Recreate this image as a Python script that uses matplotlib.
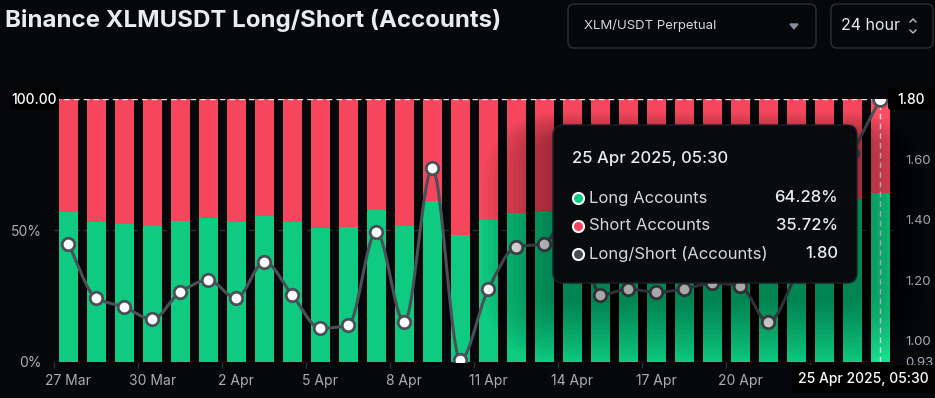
import numpy as np
import matplotlib
matplotlib.use("Agg")
import matplotlib.pyplot as plt
from matplotlib.path import Path
from matplotlib.patches import PathPatch, FancyBboxPatch

plt.rcParams['font.family'] = ['Inter', 'DejaVu Sans']

# ---- data ----
dates = ['27 Mar', '28 Mar', '29 Mar', '30 Mar', '31 Mar', '1 Apr', '2 Apr', '3 Apr',
         '4 Apr', '5 Apr', '6 Apr', '7 Apr', '8 Apr', '9 Apr', '10 Apr', '11 Apr',
         '12 Apr', '13 Apr', '14 Apr', '15 Apr', '16 Apr', '17 Apr', '18 Apr', '19 Apr',
         '20 Apr', '21 Apr', '22 Apr', '23 Apr', '24 Apr', '25 Apr']
long_pct = [56.8, 53.3, 52.5, 51.7, 53.6, 54.5, 53.3, 55.5, 53.3, 51.0,
            51.4, 57.6, 51.6, 61.1, 48.3, 53.8, 56.7, 56.8, 59.2, 53.5,
            53.9, 53.7, 53.9, 54.3, 54.1, 51.5, 55.0, 58.7, 61.9, 64.28]
short_pct = [43.2, 46.7, 47.5, 48.3, 46.4, 45.5, 46.7, 44.5, 46.7, 49.0,
             48.6, 42.4, 48.4, 38.9, 51.7, 46.2, 43.3, 43.2, 40.8, 46.5,
             46.1, 46.3, 46.1, 45.7, 45.9, 48.5, 45.0, 41.3, 38.1, 35.72]
ratio = [1.32, 1.14, 1.11, 1.07, 1.16, 1.20, 1.14, 1.26, 1.15, 1.04,
         1.05, 1.36, 1.06, 1.57, 0.935, 1.17, 1.31, 1.32, 1.45, 1.15,
         1.17, 1.16, 1.17, 1.19, 1.18, 1.06, 1.22, 1.42, 1.62, 1.80]
# every third day is labelled; 23 Apr sits under the hover date box
x_labels = ['27 Mar', '30 Mar', '2 Apr', '5 Apr', '8 Apr', '11 Apr', '14 Apr', '17 Apr', '20 Apr', '']
left_ticks = [0, 50]
left_ticklabels = ['0%', '50%']
right_ticks = [0.93, 1.00, 1.20, 1.40, 1.60]
right_ticklabels = ['0.93', '1.00', '1.20', '1.40', '1.60']

BG = '#05070b'
GREEN = '#0ecb81'
RED = '#f6465d'
GREEN_HI = '#16de8f'
RED_HI = '#ff4e64'
LINE = '#4a4f58'
TXT = '#a9aeb6'
W, H = 935, 398

fig = plt.figure(figsize=(W / 100, H / 100), dpi=100, facecolor=BG)

# main axes: x from 54.3 to 894.3 px, y 0% at 361.5 px, 100% at 99 px
ax = fig.add_axes([54.3 / W, (H - 361.5) / H, 840 / W, 262.5 / H])
ax.set_facecolor(BG)
x = np.arange(len(dates))
n = len(dates)
gcol = [GREEN] * (n - 1) + [GREEN_HI]
rcol = [RED] * (n - 1) + [RED_HI]
ax.bar(x, long_pct, width=0.69, color=gcol, zorder=2)
ax.bar(x, short_pct, bottom=long_pct, width=0.69, color=rcol, zorder=2)
ax.set_xlim(-0.5, n - 0.5)
ax.set_ylim(0, 100)
for s in ax.spines.values():
    s.set_visible(False)
ax.axhline(50, color='#2b2f36', lw=1, ls=(0, (4, 3)), zorder=1)
ax.axhline(0, color='#2b2f36', lw=1, ls=(0, (4, 3)), zorder=1)
ax.set_yticks(left_ticks)
ax.set_yticklabels(left_ticklabels)
ax.tick_params(axis='y', length=0, pad=9, labelsize=10, labelcolor=TXT)
ax.set_xticks(x[::3])
ax.set_xticklabels(x_labels)
ax.set_xticks(x[::3] - 0.5, minor=True)
ax.tick_params(axis='x', which='major', length=0, pad=9, labelsize=10, labelcolor=TXT)
ax.tick_params(axis='x', which='minor', length=4, color='#2b2f36', width=1)

# ratio line on right axis
ax2 = ax.twinx()
ax2.set_ylim(0.93, 1.80)
for s in ax2.spines.values():
    s.set_visible(False)
ax2.set_yticks(right_ticks)
ax2.set_yticklabels(right_ticklabels)
ax2.tick_params(axis='y', length=0, pad=8, labelsize=9.5, labelcolor=TXT)

# monotone cubic curve through the points (drawn with bezier segments)
xs = x.astype(float)
ys = np.array(ratio)
d = np.diff(ys) / np.diff(xs)
m = np.zeros(n)
m[0], m[-1] = d[0], d[-1]
for i in range(1, n - 1):
    if d[i - 1] * d[i] > 0:
        m[i] = 2 / (1 / d[i - 1] + 1 / d[i])
verts = [(xs[0], ys[0])]
codes = [Path.MOVETO]
for i in range(n - 1):
    h = xs[i + 1] - xs[i]
    verts += [(xs[i] + h / 3, ys[i] + m[i] * h / 3),
              (xs[i + 1] - h / 3, ys[i + 1] - m[i + 1] * h / 3),
              (xs[i + 1], ys[i + 1])]
    codes += [Path.CURVE4] * 3
ax2.add_patch(PathPatch(Path(verts, codes), fill=False, edgecolor=LINE, lw=2.2, zorder=3))
ax2.plot(x, ratio, ls='none', marker='o', ms=9, mfc='white', mec=LINE, mew=2, zorder=4)

# hover crosshair
ax2.axhline(1.80, xmin=0, xmax=(n - 0.5) / n, color='#e6e6e6', lw=1, ls=(0, (4, 3)), zorder=5)
ax2.axvline(n - 1, color='#e6e6e6', lw=1, ls=(0, (4, 3)), zorder=5)
ax2.plot([n - 1], [ratio[-1]], marker='o', ms=10, mfc='white', mec=LINE, mew=2, zorder=6)

# overlay in pixel coordinates
ov = fig.add_axes([0, 0, 1, 1], zorder=10)
ov.set_xlim(0, W)
ov.set_ylim(H, 0)
ov.axis('off')
ov.patch.set_alpha(0)

# tooltip shadow (soft, shifted downwards)
tx0, ty0, tx1, ty1 = 553, 125, 857, 283
for e in range(70, 0, -5):
    ov.add_patch(FancyBboxPatch((tx0 - e, ty0 - e * 0.4 + 15), tx1 - tx0 + 2 * e, ty1 - ty0 + 1.3 * e,
                                boxstyle='round,pad=0,rounding_size=%d' % (10 + e),
                                fc='black', ec='none', alpha=0.028))
ov.add_patch(FancyBboxPatch((tx0, ty0), tx1 - tx0, ty1 - ty0, boxstyle='round,pad=0,rounding_size=10',
                            fc='#080a0e', ec='#1c2027', lw=1))
ov.text(572, 158, '25 Apr 2025, 05:30', color='#eaecef', fontsize=12, va='center', fontweight='medium')
rows = [('Long Accounts', '%.2f%%' % long_pct[-1], GREEN),
        ('Short Accounts', '%.2f%%' % short_pct[-1], RED),
        ('Long/Short (Accounts)', '%.2f' % ratio[-1], '#474d57')]
for k, (lab, val, c) in enumerate(rows):
    yy = 198 + k * 28
    ov.plot([578], [yy], marker='o', ms=8, mfc=c, mec='white', mew=1.5)
    ov.text(589, yy, lab, color='#d5d8dc', fontsize=12, va='center')
    ov.text(838, yy, val, color='#eaecef', fontsize=12, va='center', ha='right', fontweight='medium')

# value boxes
ov.add_patch(FancyBboxPatch((10, 88), 49, 22, boxstyle='round,pad=0,rounding_size=3', fc='black', ec='none'))
ov.text(34, 99.5, '100.00', color='white', fontsize=10, ha='center', va='center', fontweight='medium')
ov.add_patch(FancyBboxPatch((888, 88), 47, 22, boxstyle='round,pad=0,rounding_size=3', fc='black', ec='none'))
ov.text(911, 99.5, '1.80', color='white', fontsize=10, ha='center', va='center', fontweight='medium')
ov.add_patch(FancyBboxPatch((792, 365), 143, 28, boxstyle='round,pad=0,rounding_size=3', fc='black', ec='none'))
ov.text(863, 379, '25 Apr 2025, 05:30', color='white', fontsize=10, ha='center', va='center', fontweight='medium')

# header
ov.text(5, 20, 'Binance XLMUSDT Long/Short (Accounts)', color='#eaecef', fontsize=17.3,
        fontweight='bold', va='center')
ov.add_patch(FancyBboxPatch((568, 4), 248, 44, boxstyle='round,pad=0,rounding_size=6',
                            fc=BG, ec='#2b2f36', lw=1))
ov.text(584, 26, 'XLM/USDT Perpetual', color='#d5d8dc', fontsize=9.5, va='center')
ov.fill([790, 798, 794], [24, 24, 29], color='#848e9c')
ov.add_patch(FancyBboxPatch((831, 4), 102, 44, boxstyle='round,pad=0,rounding_size=6',
                            fc=BG, ec='#2b2f36', lw=1))
ov.text(841, 26, '24 hour', color='#eaecef', fontsize=11.5, va='center')
ov.plot([910, 913, 916], [22, 19, 22], color='#b7bdc6', lw=1)
ov.plot([910, 913, 916], [30, 33, 30], color='#b7bdc6', lw=1)

fig.savefig('out.png', dpi=100, facecolor=BG)
